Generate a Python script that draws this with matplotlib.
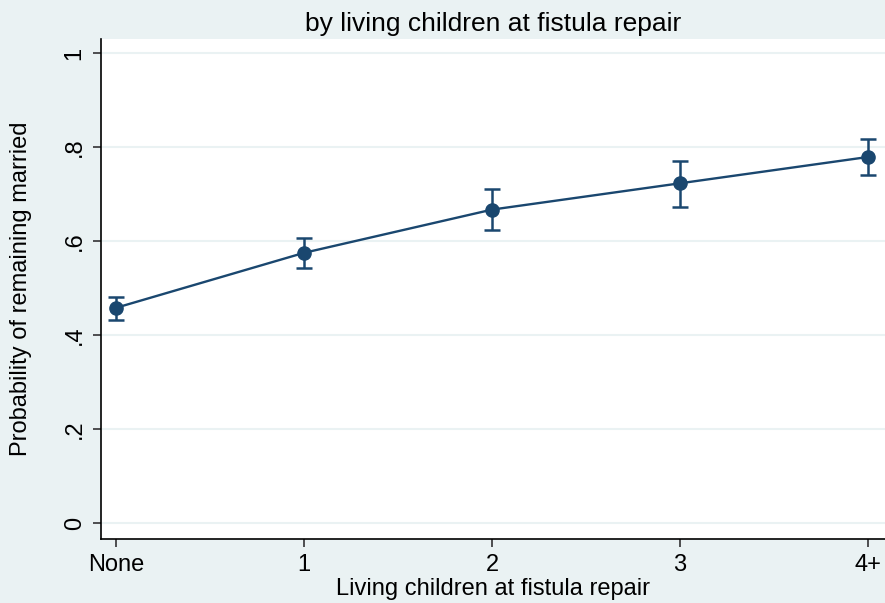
import numpy as np
import matplotlib
matplotlib.use('Agg')
from matplotlib import pyplot as plt

plt.rcParams['font.family'] = ['Liberation Sans', 'DejaVu Sans']

# marginal predictions with 95% CI
categories = ['None', '1', '2', '3', '4+']
prob = [0.458, 0.575, 0.667, 0.723, 0.779]
ci_low = [0.433, 0.542, 0.624, 0.673, 0.741]
ci_high = [0.480, 0.607, 0.710, 0.771, 0.817]
yticks = [0, 0.2, 0.4, 0.6, 0.8, 1.0]
ytick_labels = ['0', '.2', '.4', '.6', '.8', '1']

navy = '#1A476F'
bg = '#EAF2F3'

fig = plt.figure(figsize=(8.85, 6.03), dpi=100, facecolor=bg)
ax = fig.add_axes([0.1141, 0.1061, 0.8859, 0.8292])
ax.set_facecolor('white')

x = np.arange(len(categories))
prob = np.array(prob)
err = [prob - np.array(ci_low), np.array(ci_high) - prob]

ax.plot(x, prob, color=navy, lw=1.7, zorder=3)
ax.errorbar(x, prob, yerr=err, fmt='none', ecolor=navy, elinewidth=1.8,
            capsize=6, capthick=1.8, zorder=3)
ax.plot(x, prob, 'o', color=navy, ms=9.5, zorder=4)

ax.set_xlim(-0.08, 4.09)
ax.set_ylim(-0.034, 1.03)
ax.set_xticks(x)
ax.set_xticklabels(categories)
ax.set_yticks(yticks)
ax.set_yticklabels(ytick_labels, rotation=90, va='center')

for y in yticks:
    ax.axhline(y, color=bg, lw=1.5, zorder=1)

for s in ['top', 'right']:
    ax.spines[s].set_visible(False)
for s in ['left', 'bottom']:
    ax.spines[s].set_color('black')
    ax.spines[s].set_linewidth(1.2)

ax.tick_params(axis='both', direction='out', length=6, width=1.2, color='#333333',
               labelsize=17, pad=5)

ax.set_xlabel('Living children at fistula repair', fontsize=17, labelpad=1)
ax.set_ylabel('Probability of remaining married', fontsize=17)
ax.yaxis.set_label_coords(-0.088, 0.5)
ax.set_title('by living children at fistula repair', fontsize=19, pad=6)

fig.savefig('out.png', dpi=100, facecolor=bg)
